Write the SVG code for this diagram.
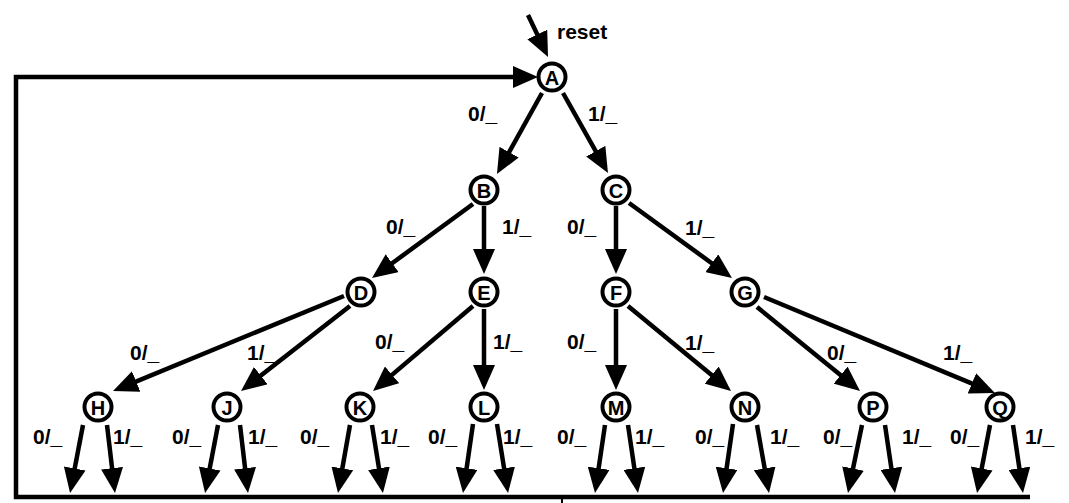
<svg xmlns="http://www.w3.org/2000/svg" width="1069" height="503" viewBox="0 0 1069 503">
<style>
.bg{fill:#fff}
.n circle{fill:#fff;stroke:#000;stroke-width:4}
.n text{font-family:"Liberation Sans",Arial,sans-serif;font-size:20px;font-weight:bold;text-anchor:middle;fill:#000}
.e line,.e path{stroke:#000;stroke-width:4.5;fill:none;marker-end:url(#ah)}
.e path.nm{marker-end:none}
.lb text{font-family:"Liberation Sans",Arial,sans-serif;font-size:21px;font-weight:bold;fill:#000}
</style>
<defs>
<marker id="ah" markerUnits="userSpaceOnUse" markerWidth="26" markerHeight="22" refX="14" refY="11" orient="auto">
<path d="M0,0 L25,11 L0,22 z" fill="#000"/>
</marker>
</defs>
<rect class="bg" x="0" y="0" width="1069" height="503"/>
<g id="connectors" class="e">
<path d="M1030,497 L16,497 L16,77 L527,77" stroke-linejoin="miter"/>
<path class="nm" d="M562,497 L562,503" style="stroke-width:2"/>
<line x1="528" y1="15" x2="543.3" y2="47.1"/>
<line x1="542" y1="93" x2="502.3" y2="164.4"/>
<line x1="563" y1="93" x2="602.6" y2="163.4"/>
<line x1="473" y1="204" x2="380.9" y2="271.5"/>
<line x1="484" y1="206" x2="484" y2="263"/>
<line x1="616" y1="206" x2="616" y2="263"/>
<line x1="629" y1="203" x2="723.1" y2="271.5"/>
<line x1="344" y1="296" x2="123.2" y2="386.8"/>
<line x1="350" y1="306" x2="249.7" y2="384.2"/>
<line x1="473" y1="306" x2="381.4" y2="383.9"/>
<line x1="484" y1="309" x2="484" y2="379"/>
<line x1="616" y1="309" x2="616" y2="379"/>
<line x1="628" y1="306" x2="722.5" y2="384"/>
<line x1="757" y1="307" x2="851.5" y2="384"/>
<line x1="764" y1="297" x2="984.8" y2="388.8"/>
<line x1="83" y1="425" x2="72.1" y2="482.2"/>
<line x1="107" y1="425" x2="113.7" y2="482.1"/>
<line x1="218" y1="425" x2="207.1" y2="482.2"/>
<line x1="240" y1="425" x2="246.7" y2="482.1"/>
<line x1="350" y1="425" x2="339.9" y2="482.2"/>
<line x1="372" y1="425" x2="381.2" y2="482.1"/>
<line x1="473" y1="424" x2="464.6" y2="482.1"/>
<line x1="497" y1="424" x2="506.3" y2="482.1"/>
<line x1="605" y1="425" x2="596.6" y2="482.1"/>
<line x1="628" y1="425" x2="636.4" y2="482.1"/>
<line x1="733" y1="424" x2="724.6" y2="482.1"/>
<line x1="757" y1="425" x2="767.1" y2="482.2"/>
<line x1="862" y1="425" x2="850.2" y2="482.2"/>
<line x1="885" y1="425" x2="893.4" y2="482.1"/>
<line x1="990" y1="425" x2="979.1" y2="482.2"/>
<line x1="1013" y1="425" x2="1021.4" y2="482.1"/>
</g>
<g id="labels" class="lb">
<text x="557" y="39" font-size="20">reset</text>
<text x="468" y="121">0/_</text>
<text x="588" y="121">1/_</text>
<text x="386" y="234">0/_</text>
<text x="502" y="234">1/_</text>
<text x="567" y="234">0/_</text>
<text x="685" y="235">1/_</text>
<text x="130" y="360">0/_</text>
<text x="247" y="360">1/_</text>
<text x="375" y="349">0/_</text>
<text x="493" y="349">1/_</text>
<text x="567" y="349">0/_</text>
<text x="685" y="350">1/_</text>
<text x="827" y="360">0/_</text>
<text x="943" y="360">1/_</text>
<text x="33" y="444">0/_</text>
<text x="113" y="444">1/_</text>
<text x="172" y="444">0/_</text>
<text x="248" y="444">1/_</text>
<text x="300" y="444">0/_</text>
<text x="380" y="444">1/_</text>
<text x="428" y="444">0/_</text>
<text x="503" y="444">1/_</text>
<text x="557" y="444">0/_</text>
<text x="635" y="444">1/_</text>
<text x="695" y="444">0/_</text>
<text x="770" y="444">1/_</text>
<text x="823" y="444">0/_</text>
<text x="902" y="444">1/_</text>
<text x="950" y="444">0/_</text>
<text x="1025" y="444">1/_</text>
</g>
<g id="node-A" class="n"><circle cx="552" cy="77" r="13.5"/><text x="552" y="84.5">A</text></g>
<g id="node-B" class="n"><circle cx="484" cy="190" r="13.5"/><text x="484" y="197.5">B</text></g>
<g id="node-C" class="n"><circle cx="616" cy="190" r="13.5"/><text x="616" y="197.5">C</text></g>
<g id="node-D" class="n"><circle cx="361" cy="292" r="13.5"/><text x="361" y="299.5">D</text></g>
<g id="node-E" class="n"><circle cx="484" cy="292" r="13.5"/><text x="484" y="299.5">E</text></g>
<g id="node-F" class="n"><circle cx="616" cy="292" r="13.5"/><text x="616" y="299.5">F</text></g>
<g id="node-G" class="n"><circle cx="745" cy="292" r="13.5"/><text x="745" y="299.5">G</text></g>
<g id="node-H" class="n"><circle cx="98" cy="407" r="13.5"/><text x="98" y="414.5">H</text></g>
<g id="node-J" class="n"><circle cx="227" cy="407" r="13.5"/><text x="227" y="414.5">J</text></g>
<g id="node-K" class="n"><circle cx="360" cy="407" r="13.5"/><text x="360" y="414.5">K</text></g>
<g id="node-L" class="n"><circle cx="484" cy="407" r="13.5"/><text x="484" y="414.5">L</text></g>
<g id="node-M" class="n"><circle cx="616" cy="407" r="13.5"/><text x="616" y="414.5">M</text></g>
<g id="node-N" class="n"><circle cx="745" cy="407" r="13.5"/><text x="745" y="414.5">N</text></g>
<g id="node-P" class="n"><circle cx="873" cy="407" r="13.5"/><text x="873" y="414.5">P</text></g>
<g id="node-Q" class="n"><circle cx="1000" cy="407" r="13.5"/><text x="1000" y="414.5">Q</text></g>
</svg>
